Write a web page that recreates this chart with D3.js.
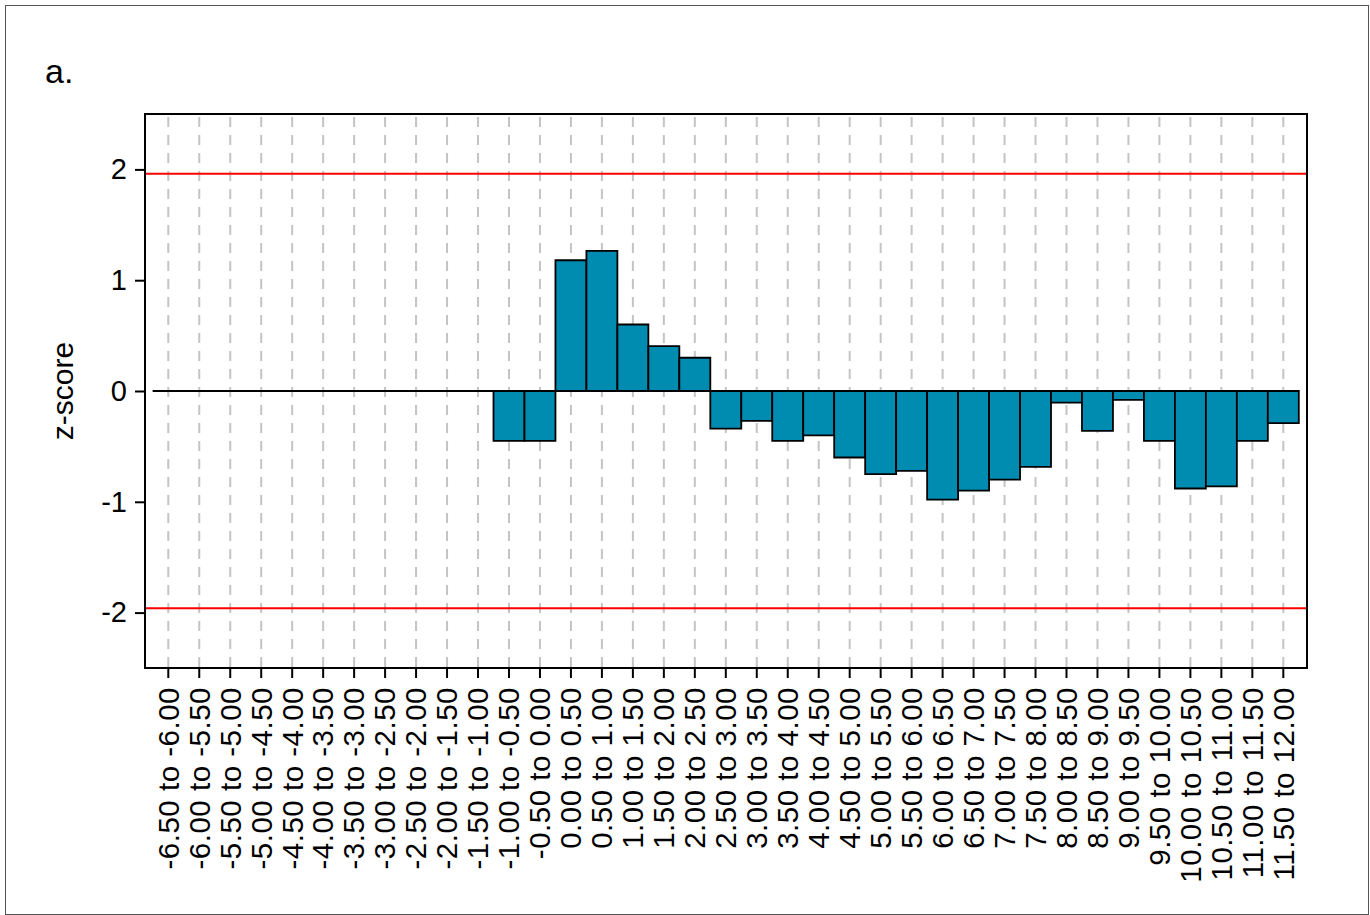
<!DOCTYPE html>
<html>
<head>
<meta charset="utf-8">
<script src="https://cdn.jsdelivr.net/npm/d3@7/dist/d3.min.js"></script>
<style>
  html, body { margin: 0; padding: 0; background: #fff; }
  svg { display: block; }
  text { font-family: "Liberation Sans", Arial, sans-serif; fill: #000; }
</style>
</head>
<body>
<svg id="chart" width="1370" height="915"></svg>
<script>
// ---- Data ----
const binStarts = [-6.5,-6.0,-5.5,-5.0,-4.5,-4.0,-3.5,-3.0,-2.5,-2.0,-1.5,-1.0,-0.5,0.0,0.5,1.0,1.5,2.0,2.5,3.0,3.5,4.0,4.5,5.0,5.5,6.0,6.5,7.0,7.5,8.0,8.5,9.0,9.5,10.0,10.5,11.0,11.5];
const categories = binStarts.map(s => s.toFixed(2) + " to " + (s + 0.5).toFixed(2));
const zScores = [0,0,0,0,0,0,0,0,0,0,0,
  -0.45,-0.45,1.18,1.265,0.60,0.405,0.30,-0.34,-0.27,-0.45,-0.40,-0.60,-0.75,-0.72,-0.98,-0.90,-0.80,-0.685,
  -0.105,-0.36,-0.08,-0.45,-0.88,-0.86,-0.45,-0.29];
const yTicks = [-2, -1, 0, 1, 2];
const thresholds = [1.96, -1.96];
const panelLabel = "a.";
const yLabel = "z-score";

// ---- Layout ----
const svg = d3.select("#chart");
const plot = { left: 145, right: 1307, top: 114, bottom: 668 };

svg.append("rect")
  .attr("x", 5.5).attr("y", 5.5).attr("width", 1363).attr("height", 909)
  .attr("fill", "none").attr("stroke", "#555").attr("stroke-width", 1);

const x = d3.scaleBand().domain(categories).range([152.8, 1298.8]).paddingInner(0).paddingOuter(0);
const y = d3.scaleLinear().domain([-2.5, 2.5]).range([plot.bottom, plot.top]);

// Grid lines (dashed, vertical at category centres)
svg.append("g").selectAll("line").data(categories).join("line")
  .attr("x1", d => x(d) + x.bandwidth() / 2).attr("x2", d => x(d) + x.bandwidth() / 2)
  .attr("y1", plot.top).attr("y2", plot.bottom)
  .attr("stroke", "#c4c4c4").attr("stroke-width", 2)
  .attr("stroke-dasharray", "10,8").attr("stroke-dashoffset", -3);

// Threshold lines
svg.append("g").selectAll("line").data(thresholds).join("line")
  .attr("x1", plot.left).attr("x2", plot.right)
  .attr("y1", d => y(d)).attr("y2", d => y(d))
  .attr("stroke", "#ff0000").attr("stroke-width", 2);

// Bars
svg.append("g").selectAll("path").data(categories).join("path")
  .attr("d", (d, i) => {
    const x0 = x(d), x1 = x(d) + x.bandwidth();
    const ya = y(0), yb = y(zScores[i]);
    return `M${x0},${ya}L${x1},${ya}L${x1},${yb}L${x0},${yb}Z`;
  })
  .attr("fill", "#008BB0")
  .attr("stroke", "#000").attr("stroke-width", 1.8)
  .attr("stroke-linejoin", "miter");

// Baseline (outline of the zero-height bars / bar tops at 0)
svg.append("line")
  .attr("x1", x.range()[0]).attr("x2", x.range()[1])
  .attr("y1", y(0)).attr("y2", y(0))
  .attr("stroke", "#000").attr("stroke-width", 2.2);

// Frame
svg.append("rect")
  .attr("x", plot.left).attr("y", plot.top)
  .attr("width", plot.right - plot.left).attr("height", plot.bottom - plot.top)
  .attr("fill", "none").attr("stroke", "#000").attr("stroke-width", 2);

// Y axis
const yAxis = d3.axisLeft(y).tickValues(yTicks).tickSize(10).tickPadding(8).tickFormat(d => String(d));
const gy = svg.append("g").attr("transform", `translate(${plot.left},0)`).call(yAxis);
gy.select(".domain").remove();
gy.selectAll(".tick line").attr("stroke", "#000").attr("stroke-width", 2);
gy.selectAll(".tick text").style("font-size", "29px").attr("font-family", "Liberation Sans, Arial, sans-serif");

// X axis
const xAxis = d3.axisBottom(x).tickSize(10).tickPadding(9);
const gx = svg.append("g").attr("transform", `translate(0,${plot.bottom})`).call(xAxis);
gx.select(".domain").remove();
gx.selectAll(".tick line").attr("stroke", "#000").attr("stroke-width", 2);
gx.selectAll(".tick text")
  .style("font-size", "29.5px").style("letter-spacing", "0.5px")
  .attr("font-family", "Liberation Sans, Arial, sans-serif")
  .attr("text-anchor", "end")
  .attr("transform", "rotate(-90)")
  .attr("x", -19).attr("y", 0).attr("dy", "0.35em");

// Y label
svg.append("text")
  .attr("transform", `translate(73,391) rotate(-90)`)
  .attr("text-anchor", "middle")
  .style("font-size", "30px")
  .text(yLabel);

// Panel label
svg.append("text").attr("x", 45).attr("y", 83).style("font-size", "34px").text(panelLabel);
</script>
</body>
</html>
